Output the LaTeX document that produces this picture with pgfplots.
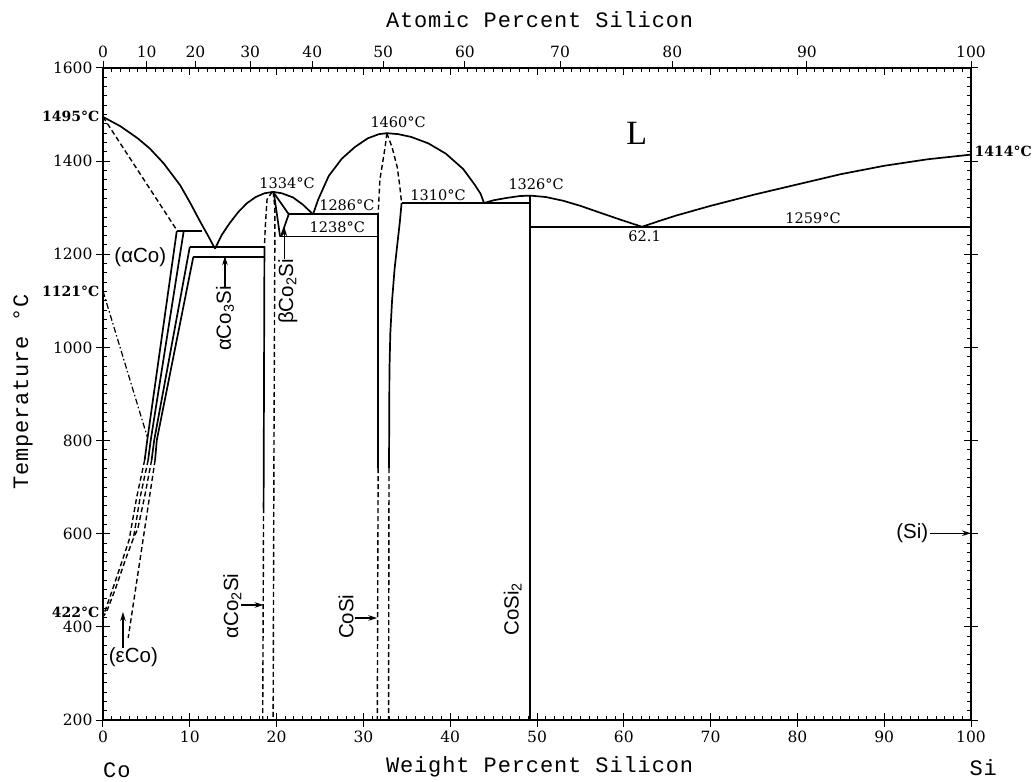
\documentclass[border=0pt]{standalone}
\usepackage{pgfplots}
\pgfplotsset{compat=1.18}
\usetikzlibrary{arrows.meta}
\usepackage{fontspec}
\setmainfont{DejaVu Serif}
\newfontfamily\monof{Liberation Mono}[LetterSpace=4.0]
\newfontfamily\sansf{Liberation Sans}
\newfontfamily\lserif{Liberation Serif}
\tikzset{
  sol/.style={black, line width=1.7pt, line join=round},
  dsh/.style={black, line width=1.4pt, dash pattern=on 5pt off 3pt},
  dd/.style={black, line width=1.2pt, dash pattern=on 6pt off 2.5pt on 1.5pt off 2.5pt},
  ph/.style={font=\sansf\fontsize{20.5}{22}\selectfont, inner sep=0pt},
  tl/.style={font=\fontsize{14.5}{16}\selectfont, inner sep=0pt},
  tb/.style={font=\bfseries\fontsize{14}{16}\selectfont, inner sep=0pt},
  ttl/.style={font=\monof\fontsize{22}{24}\selectfont, inner sep=0pt},
  arr/.style={black, line width=1.3pt, -{Stealth[length=9pt,width=5.5pt]}},
}
\pgfplotsset{myax/.style={at={(0pt,0pt)}, anchor=south west, scale only axis,
  width=868pt, height=652pt, xmin=0, xmax=100, ymin=200, ymax=1600,
  axis line style={line width=1.3pt},
  every tick/.style={black, line width=1pt},
  tick label style={font=\fontsize{15.5}{17}\selectfont, /pgf/number format/assume math mode=true, /pgf/number format/set thousands separator={}},
}}
\begin{document}
\begin{tikzpicture}
\useasboundingbox (-103pt,-61pt) rectangle (932pt,720pt);

% inner ticks
\begin{axis}[myax, tick align=inside, xtick={0,10,...,100}, ytick={200,400,...,1600},
  minor x tick num=9, minor y tick num=9, xticklabels={}, yticklabels={},
  xtick pos=both, ytick pos=both, major tick length=7pt, minor tick length=4pt]
\addplot[draw=none] coordinates {(0,200)};
\end{axis}

% top atomic percent axis
\begin{axis}[myax, axis x line*=top, axis y line=none,
  xtick={0,5.03,10.65,16.96,24.11,32.28,41.69,52.65,65.59,81.09,100},
  xticklabels={0,10,20,30,40,50,60,70,80,90,100},
  xticklabel pos=top, tick align=outside, major tick length=7pt]
\addplot[draw=none] coordinates {(0,200)};
\end{axis}

% main axis
\begin{axis}[myax, clip=false, tick align=outside, xtick={0,10,...,100}, ytick={200,400,...,1600},
  xtick pos=bottom, ytick pos=both, yticklabel pos=left, major tick length=7pt]

% liquidus
\addplot[sol] coordinates {(0,1495)(2,1475)(4,1449)(5.4,1427)(7,1395)(8.9,1348)(10,1312)(11.2,1270)(12.1,1240)(12.9,1212)};
\addplot[sol] coordinates {(12.9,1212)(13.7,1242)(14.6,1267)(15.6,1291)(16.6,1310)(17.6,1323)(18.6,1331)(19.6,1334)(20.6,1331)(21.9,1322)(23.0,1307)(24.2,1286)};
\addplot[sol] coordinates {(24.2,1286)(24.8,1318)(26.0,1368)(27.5,1405)(29.0,1430)(30.5,1449)(31.8,1458)(32.7,1460)(34.0,1458)(35.5,1452)(37.5,1438)(39.5,1416)(41.5,1383)(42.8,1350)(43.5,1330)(43.9,1310)};
\addplot[sol] coordinates {(43.9,1310)(45,1316)(46.5,1321)(48,1325)(49.2,1326)(51,1323)(53,1315)(55,1304)(57,1291)(59.5,1275)(62.1,1259)};
\addplot[sol] coordinates {(62.1,1259)(64,1271)(66,1283)(70,1304)(75,1328)(80,1350)(85,1372)(90,1390)(95,1404)(100,1414)};

% horizontals
\addplot[sol] coordinates {(8.5,1250)(11.4,1250)};
\addplot[sol] coordinates {(10.0,1216)(18.6,1216)};
\addplot[sol] coordinates {(10.4,1194)(18.6,1194)};
\addplot[sol] coordinates {(21.4,1286)(31.7,1286)};
\addplot[sol] coordinates {(20.4,1238)(31.7,1238)};
\addplot[sol] coordinates {(34.4,1310)(49.2,1310)};
\addplot[sol] coordinates {(49.2,1259)(100,1259)};

% verticals
\addplot[sol] coordinates {(18.6,1216)(18.5,655)};
\addplot[dsh] coordinates {(18.5,655)(18.4,200)};
\addplot[sol] coordinates {(31.7,1286)(31.7,741)};
\addplot[dsh] coordinates {(31.7,741)(31.6,200)};
\addplot[sol] coordinates {(34.4,1310)(34.2,1270)(33.9,1220)(33.6,1170)(33.3,1100)(33.1,1030)(33.0,950)(32.95,741)};
\addplot[dsh] coordinates {(32.95,741)(32.9,200)};
\addplot[sol] coordinates {(49.2,1326)(49.2,200)};
\addplot[black, line width=2.4pt] coordinates {(100,1414)(100,200)};

% dashed boundaries
\addplot[dsh] coordinates {(0,1495)(8.5,1252)};
\addplot[dsh] coordinates {(32.7,1460)(32.5,1430)(31.9,1360)(31.7,1286)};
\addplot[dsh] coordinates {(32.7,1460)(33.3,1430)(33.9,1387)(34.2,1345)(34.4,1310)};
\addplot[dsh] coordinates {(19.5,1334)(18.9,1318)(18.7,1260)(18.6,1216)};
\addplot[dsh] coordinates {(19.6,1334)(19.8,1300)(19.8,1238)(19.7,800)(19.6,200)};

% beta Co2Si
\addplot[sol] coordinates {(19.6,1334)(21.4,1286)};
\addplot[sol] coordinates {(19.7,1330)(20.4,1238)};
\addplot[sol] coordinates {(21.4,1286)(20.5,1238)};

% alpha Co lines
\addplot[sol] coordinates {(8.5,1250)(5.1,801)(4.8,758)};
\addplot[dsh] coordinates {(4.8,758)(3.9,680)(3.0,586)(2.0,530)(1.0,475)(0,422)};
\addplot[sol] coordinates {(9.3,1250)(5.5,801)(5.2,758)};
\addplot[dsh] coordinates {(5.2,758)(4.3,680)(3.5,590)(2.6,545)(1.4,480)(0.4,432)(0,422)};
\addplot[sol] coordinates {(10.0,1216)(5.9,801)(5.6,758)};
\addplot[dsh] coordinates {(5.6,758)(4.8,680)(4.0,610)(3.5,590)};
\addplot[sol] coordinates {(10.4,1194)(6.2,801)(6.0,758)};
\addplot[dsh] coordinates {(6.0,758)(2.9,376)};
\addplot[dd] coordinates {(0,1121)(5.1,808)};

% arrows
\draw[arr] (axis cs:14.05,1130) -- (axis cs:14.05,1196);
\draw[arr] (axis cs:20.9,1190) -- (axis cs:20.9,1258);
\draw[arr] (axis cs:15.9,447) -- (axis cs:18.5,447);
\draw[arr] (axis cs:29.0,419) -- (axis cs:31.6,419);
\draw[arr] (axis cs:2.3,355) -- (axis cs:2.3,432);
\draw[arr] (axis cs:95.3,601) -- (axis cs:100,601);

% phase labels
\node[ph] at (axis cs:4.3,1194) {(αCo)};
\node[ph] at (axis cs:3.5,335) {(εCo)};
\node[ph, rotate=90, anchor=east] at (axis cs:14.05,1132) {αCo\textsubscript{3}Si};
\node[ph, rotate=90, anchor=east] at (axis cs:21.3,1190) {βCo\textsubscript{2}Si};
\node[ph, rotate=90, anchor=east] at (axis cs:14.9,515) {αCo\textsubscript{2}Si};
\node[ph, rotate=90, anchor=east] at (axis cs:28.0,470) {CoSi};
\node[ph, rotate=90, anchor=east] at (axis cs:47.2,495) {CoSi\textsubscript{2}};
\node[ph, anchor=east] at (axis cs:95.1,601) {(Si)};
\node[font=\lserif\fontsize{34}{34}\selectfont, inner sep=0pt] at (axis cs:61.5,1460) {L};

% temperature labels
\node[tb, anchor=east] at (axis cs:-0.4,1497) {1495°C};
\node[tb, anchor=east] at (axis cs:-0.4,1121) {1121°C};
\node[tb, anchor=east] at (axis cs:-0.4,432) {422°C};
\node[tb, anchor=west] at (axis cs:100.4,1420) {1414°C};
\node[tl] at (axis cs:21.2,1353) {1334°C};
\node[tl] at (axis cs:34.0,1484) {1460°C};
\node[tl] at (axis cs:28.1,1306) {1286°C};
\node[tl] at (axis cs:27.0,1259) {1238°C};
\node[tl] at (axis cs:38.6,1327) {1310°C};
\node[tl] at (axis cs:49.9,1351) {1326°C};
\node[tl] at (axis cs:81.8,1278) {1259°C};
\node[tl] at (axis cs:62.4,1239) {62.1};

% titles
\node[ttl] at (axis cs:50.3,1703) {Atomic Percent Silicon};
\node[ttl] at (axis cs:50.3,99) {Weight Percent Silicon};
\node[ttl] at (axis cs:1.6,93) {Co};
\node[ttl] at (axis cs:101.4,97) {Si};
\node[ttl, rotate=90] at (axis cs:-9.2,904) {Temperature °C};
\end{axis}
\end{tikzpicture}
\end{document}
